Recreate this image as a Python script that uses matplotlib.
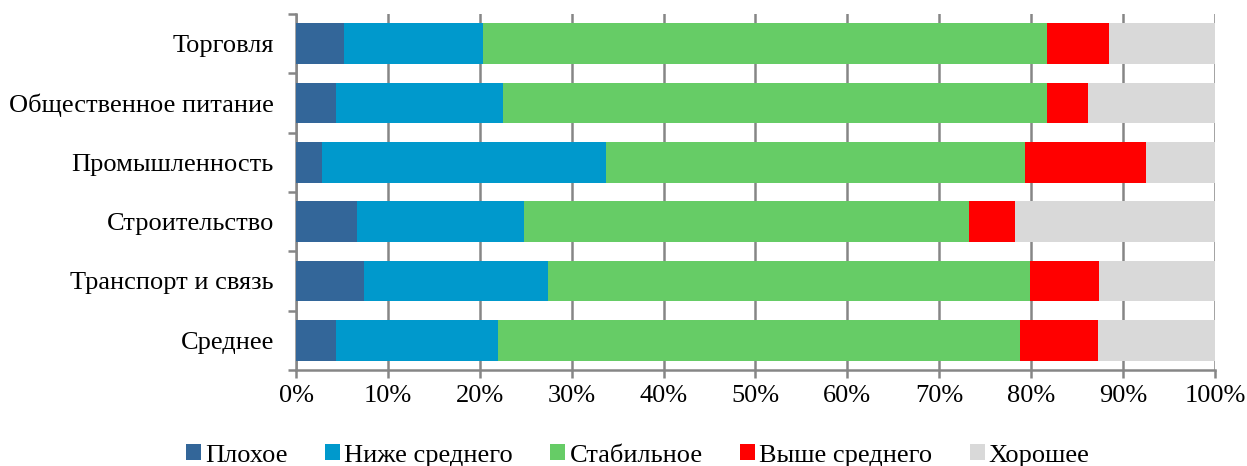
import matplotlib.pyplot as plt
import numpy as np

plt.rcParams['font.family'] = ['Liberation Serif', 'DejaVu Serif']

categories = ['Торговля', 'Общественное питание', 'Промышленность',
              'Строительство', 'Транспорт и связь', 'Среднее']
series = ['Плохое', 'Ниже среднего', 'Стабильное', 'Выше среднего', 'Хорошее']
bad = [5.2, 4.35, 2.8, 6.6, 7.4, 4.35]
below = [15.1, 18.15, 30.9, 18.2, 20.0, 17.65]
stable = [61.4, 59.2, 45.6, 48.4, 52.5, 56.8]
above = [6.8, 4.5, 13.2, 5.0, 7.5, 8.5]
good = [11.5, 13.8, 7.5, 21.8, 12.6, 12.7]
colors = ['#336699', '#0099CC', '#66CC66', '#FF0000', '#D9D9D9']

fig = plt.figure(figsize=(12.47, 4.66), dpi=100)
ax = fig.add_axes([0.2374, 0.206, 0.7369, 0.764])

y = np.arange(len(categories))[::-1]
left = np.zeros(len(categories))
for name, vals, c in zip(series, [bad, below, stable, above, good], colors):
    ax.barh(y, vals, left=left, height=0.69, color=c, label=name, zorder=3)
    left += np.array(vals)

ax.set_xlim(0, 100)
ax.set_ylim(-0.5, len(categories) - 0.5)
ax.set_xticks(np.arange(0, 101, 10))
ax.set_xticklabels(['%d%%' % v for v in range(0, 101, 10)])
ax.set_yticks(y)
ax.set_yticklabels(categories)
ax.set_yticks(np.arange(-0.5, len(categories), 1), minor=True)
ax.grid(axis='x', color='#868686', linewidth=1.8, zorder=0)
for s in ['top', 'right']:
    ax.spines[s].set_visible(False)
for s in ['left', 'bottom']:
    ax.spines[s].set_color('#868686')
    ax.spines[s].set_linewidth(1.8)
ax.tick_params(axis='y', which='major', length=0, pad=16, labelsize=19)
ax.tick_params(axis='y', which='minor', length=6, width=1.8, color='#868686')
ax.tick_params(axis='x', length=6, width=1.8, color='#868686', pad=5, labelsize=19)

ax.legend(loc='center', bbox_to_anchor=(0.372, -0.24), ncol=5, frameon=False,
          fontsize=19, handlelength=0.57, handleheight=0.57, handletextpad=0.15,
          columnspacing=1.42)

plt.savefig('out.png', dpi=100)
